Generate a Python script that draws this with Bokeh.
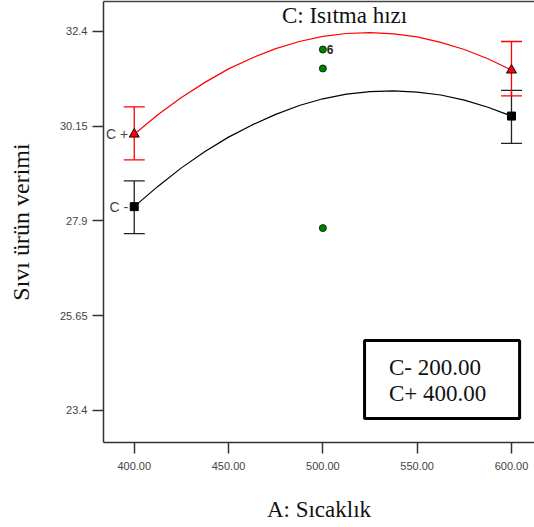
from bokeh.plotting import figure
from bokeh.models import (ColumnDataSource, Range1d, FixedTicker, LinearAxis, Whisker,
                          TeeHead, Label, BoxAnnotation)
from bokeh.core.properties import value
from bokeh.embed import file_html
from bokeh.resources import INLINE

# ---- data ----
curve_x = [400, 412.5, 425, 437.5, 450, 462.5, 475, 487.5, 500,
           512.5, 525, 537.5, 550, 562.5, 575, 587.5, 600]
curve_cplus = [29.96, 30.42, 30.83, 31.19, 31.51, 31.77, 31.99, 32.16, 32.28,
               32.35, 32.37, 32.34, 32.27, 32.14, 31.97, 31.75, 31.48]
curve_cminus = [28.24, 28.72, 29.16, 29.55, 29.89, 30.18, 30.43, 30.64, 30.80,
                30.91, 30.97, 30.99, 30.96, 30.89, 30.77, 30.60, 30.39]

pt_x = [400, 600]
cplus_mean = [29.96, 31.48]
cplus_low = [29.35, 30.87]
cplus_high = [30.61, 32.16]
cminus_mean = [28.24, 30.39]
cminus_low = [27.60, 29.74]
cminus_high = [28.85, 31.00]

center_x = [500, 500, 500]
center_y = [31.97, 31.52, 27.73]
center_count = ["6"]

y_ticks = [23.4, 25.65, 27.9, 30.15, 32.4]
y_tick_labels = ["23.4", "25.65", "27.9", "30.15", "32.4"]
x_ticks = [400, 450, 500, 550, 600]
x_tick_labels = ["400.00", "450.00", "500.00", "550.00", "600.00"]

legend_lines = ["C- 200.00", "C+ 400.00"]
series_tags = ["C +", "C -"]

SERIF = "Liberation Serif"
SANS = "Liberation Sans"

p = figure(width=534, height=527, output_backend="svg", toolbar_location=None,
           x_range=Range1d(383.7, 612.2), y_range=Range1d(22.64, 33.11),
           min_border_left=103, min_border_right=0, min_border_top=1, min_border_bottom=85)
p.outline_line_color = None
p.grid.visible = False
p.background_fill_color = "white"

for ax in (p.xaxis[0], p.yaxis[0]):
    ax.axis_line_color = "#333333"
    ax.axis_line_width = 1.5
    ax.major_tick_line_color = "#333333"
    ax.major_tick_line_width = 1.5
    ax.major_tick_out = 11
    ax.major_tick_in = 0
    ax.minor_tick_line_color = None
    ax.major_label_text_font = SANS
    ax.major_label_text_font_size = "11px"
    ax.major_label_text_color = "#444444"
    ax.axis_label_text_font = SERIF
    ax.axis_label_text_font_style = "normal"
    ax.axis_label_text_color = "#111111"

p.xaxis.ticker = FixedTicker(ticks=x_ticks)
p.xaxis.major_label_overrides = dict(zip(x_ticks, x_tick_labels))
p.yaxis.ticker = FixedTicker(ticks=y_ticks)
p.yaxis.major_label_overrides = dict(zip(y_ticks, y_tick_labels))
p.xaxis.axis_label = "A: Sıcaklık"
p.yaxis.axis_label = "Sıvı ürün verimi"
p.xaxis.axis_label_text_font_size = "23px"
p.yaxis.axis_label_text_font_size = "24px"
p.xaxis.major_label_standoff = 8
p.yaxis.major_label_standoff = 5
p.xaxis.axis_label_standoff = 24
p.yaxis.axis_label_standoff = 23

top = LinearAxis(ticker=FixedTicker(ticks=[]), major_label_text_font_size="0px",
                 major_tick_line_color=None, minor_tick_line_color=None,
                 axis_line_color="#444444", axis_line_width=1.5)
p.add_layout(top, "above")

# curves
p.line(curve_x, curve_cplus, line_color="#FF0000", line_width=1.2)
p.line(curve_x, curve_cminus, line_color="#000000", line_width=1.2)

# error bars
src_p = ColumnDataSource(dict(x=pt_x, lo=cplus_low, hi=cplus_high, m=cplus_mean))
src_m = ColumnDataSource(dict(x=pt_x, lo=cminus_low, hi=cminus_high, m=cminus_mean))
p.add_layout(Whisker(base="x", lower="lo", upper="hi", source=src_m, line_color="#222222",
                     line_width=1.3,
                     upper_head=TeeHead(size=21, line_color="#222222", line_width=1.3),
                     lower_head=TeeHead(size=21, line_color="#222222", line_width=1.3)))
p.add_layout(Whisker(base="x", lower="lo", upper="hi", source=src_p, line_color="#FF0000",
                     line_width=1.3,
                     upper_head=TeeHead(size=21, line_color="#FF0000", line_width=1.3),
                     lower_head=TeeHead(size=21, line_color="#FF0000", line_width=1.3)))

p.scatter("x", "m", source=src_m, marker="square", size=8, fill_color="black", line_color="black")
p.scatter("x", "m", source=src_p, marker="triangle", size=10, fill_color="#FF0000", line_color="#111111")

# design points
p.scatter(center_x, center_y, marker="circle", size=7, fill_color="#008000", line_color="#003300")
p.text(x=[center_x[0]], y=[center_y[0]], text=center_count, x_offset=4, text_baseline="middle",
       text_font=value(SANS), text_font_size="12px", text_font_style="bold", text_color="#222222")

# series tags next to the left points
p.text(x=[pt_x[0], pt_x[0]], y=[cplus_mean[0], cminus_mean[0]], text=series_tags, x_offset=-6,
       text_align="right", text_baseline="middle", text_font=value(SANS),
       text_font_size="14px", text_color="#444444")

# title inside the plot
p.add_layout(Label(x=511.5, y=33.11, y_offset=-14, text="C: Isıtma hızı", text_align="center",
                   text_baseline="alphabetic", text_font=SERIF, text_font_size="23px",
                   text_color="#111111"))

# legend box
p.add_layout(BoxAnnotation(left=522.1, right=604.3, top=25.06, bottom=23.21,
                           fill_color="white", fill_alpha=1.0, line_color="black",
                           line_alpha=1.0, line_width=3))
p.add_layout(Label(x=535.0, y=24.43, text=legend_lines[0], text_baseline="middle",
                   text_font=SERIF, text_font_size="23px", text_color="#111111"))
p.add_layout(Label(x=535.0, y=23.80, text=legend_lines[1], text_baseline="middle",
                   text_font=SERIF, text_font_size="23px", text_color="#111111"))

open("out.html", "w").write(file_html(p, INLINE))
